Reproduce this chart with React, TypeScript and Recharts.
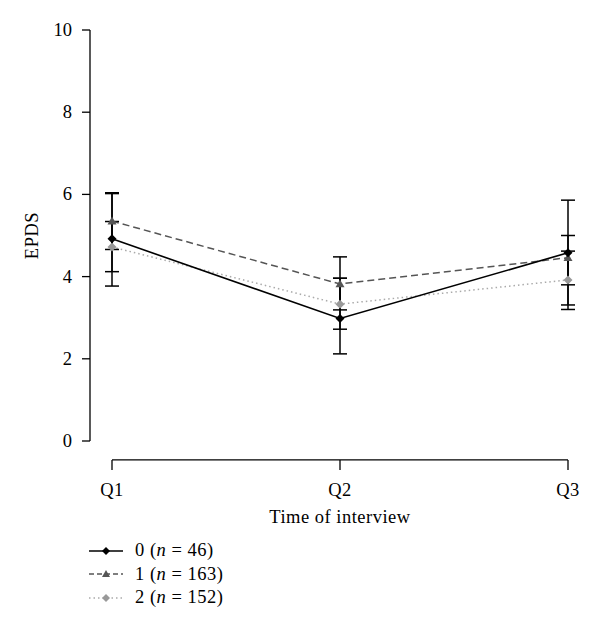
import React from "react";
import { LineChart, Line, XAxis, YAxis, ErrorBar, ReferenceLine, Label } from "recharts";

const quarters = ["Q1", "Q2", "Q3"];
const yTicks = [0, 2, 4, 6, 8, 10];

// mean EPDS per group
const mean0 = [4.92, 2.98, 4.58];
const mean1 = [5.35, 3.82, 4.46];
const mean2 = [4.72, 3.33, 3.92];

// error bar limits (low / high)
const low0 = [3.77, 2.12, 3.31];
const high0 = [6.04, 3.96, 5.86];
const low1 = [4.66, 3.19, 3.8];
const high1 = [6.02, 4.48, 5.0];
const low2 = [4.12, 2.72, 3.2];
const high2 = [5.34, 3.96, 4.62];

const groupNames = ["0", "1", "2"];
const groupN = [46, 163, 152];

const data = quarters.map((q, i) => ({
  q,
  s0: mean0[i],
  s1: mean1[i],
  s2: mean2[i],
  e0: [mean0[i] - low0[i], high0[i] - mean0[i]],
  e1: [mean1[i] - low1[i], high1[i] - mean1[i]],
  e2: [mean2[i] - low2[i], high2[i] - mean2[i]],
}));

const AXIS_Y = -0.46; // x axis line sits a bit below zero (R style)
const FONT = "'Liberation Serif', 'Times New Roman', serif";
const FS = 18.5;
const LS = 0.5;

const diamond = (fill: string, r: number) => (props: any) => {
  const { cx, cy, index } = props;
  if (cx == null || cy == null) return <g key={index} />;
  return (
    <polygon
      key={index}
      points={`${cx},${cy - r} ${cx + r},${cy} ${cx},${cy + r} ${cx - r},${cy}`}
      fill={fill}
    />
  );
};

const triangle = (fill: string, r: number) => (props: any) => {
  const { cx, cy, index } = props;
  if (cx == null || cy == null) return <g key={index} />;
  return (
    <polygon
      key={index}
      points={`${cx},${cy - r} ${cx + r},${cy + r * 0.75} ${cx - r},${cy + r * 0.75}`}
      fill={fill}
    />
  );
};

const XTick = (props: any) => {
  const { x, y, payload } = props;
  return (
    <g>
      <line x1={x} x2={x} y1={y + 19} y2={y + 29} stroke="#000" strokeWidth={1.3} />
      <text x={x} y={y + 55} textAnchor="middle" fontSize={FS} letterSpacing={LS} fill="#000" fontFamily={FONT}>
        {payload.value}
      </text>
    </g>
  );
};

const YTick = (props: any) => {
  const { x, y, payload } = props;
  return (
    <text x={x} y={y + 6} textAnchor="end" fontSize={FS} fill="#000" fontFamily={FONT}>
      {payload.value}
    </text>
  );
};

const YLabel = (props: any) => {
  const { viewBox } = props;
  const cx = viewBox.x + 32;
  const cy = viewBox.y + viewBox.height / 2;
  return (
    <text
      x={cx}
      y={cy}
      transform={`rotate(-90, ${cx}, ${cy})`}
      textAnchor="middle"
      dominantBaseline="central"
      fontSize={FS}
      letterSpacing={LS}
      fill="#000"
      fontFamily={FONT}
    >
      EPDS
    </text>
  );
};

const XLabel = (props: any) => {
  const { viewBox } = props;
  const cx = viewBox.x + viewBox.width / 2;
  return (
    <text x={cx} y={viewBox.y + 82} textAnchor="middle" fontSize={FS} letterSpacing={LS} fill="#000" fontFamily={FONT}>
      Time of interview
    </text>
  );
};

const legendStyles = [
  { stroke: "#000", dash: undefined, marker: "diamond", fill: "#000" },
  { stroke: "#555", dash: "5 3", marker: "triangle", fill: "#555" },
  { stroke: "#aaa", dash: "1.5 3", marker: "diamond", fill: "#999" },
];

const LegendIcon = ({ i }: { i: number }) => {
  const s = legendStyles[i];
  return (
    <svg width={36} height={14} style={{ display: "block" }}>
      <line x1={0} x2={34} y1={7} y2={7} stroke={s.stroke} strokeWidth={1.5} strokeDasharray={s.dash} />
      {s.marker === "diamond" ? (
        <polygon points="17,3 21,7 17,11 13,7" fill={s.fill} />
      ) : (
        <polygon points="17,3 21,10 13,10" fill={s.fill} />
      )}
    </svg>
  );
};

export default function App() {
  return (
    <div style={{ position: "absolute", left: 0, top: 0, width: 600, height: 632, fontFamily: FONT, background: "#fff" }}>
      <LineChart width={600} height={632} data={data} margin={{ top: 30, right: 10, bottom: 91, left: 0 }}>
        <XAxis
          dataKey="q"
          padding={{ left: 22, right: 22 }}
          axisLine={false}
          tickLine={false}
          tickSize={0}
          tickMargin={0}
          height={100}
          tick={<XTick />}
          interval={0}
        >
          <Label content={<XLabel />} />
        </XAxis>
        <YAxis
          domain={[0, 10]}
          ticks={yTicks}
          interval={0}
          width={90}
          tickSize={8}
          tickMargin={10}
          axisLine={{ stroke: "#000", strokeWidth: 1.3 }}
          tickLine={{ stroke: "#000", strokeWidth: 1.3 }}
          tick={<YTick />}
        >
          <Label content={<YLabel />} />
        </YAxis>
        <ReferenceLine
          segment={[{ x: "Q1", y: AXIS_Y }, { x: "Q3", y: AXIS_Y }]}
          stroke="#000"
          strokeWidth={1.3}
          ifOverflow="visible"
        />
        <Line
          dataKey="s2"
          stroke="#aaa"
          strokeWidth={1.5}
          strokeDasharray="1.5 3"
          dot={diamond("#999", 4.5)}
          activeDot={false}
          isAnimationActive={false}
        >
          <ErrorBar dataKey="e2" direction="y" width={7} stroke="#000" strokeWidth={1.5} isAnimationActive={false} />
        </Line>
        <Line
          dataKey="s1"
          stroke="#555"
          strokeWidth={1.5}
          strokeDasharray="7 4"
          dot={triangle("#555", 4.5)}
          activeDot={false}
          isAnimationActive={false}
        >
          <ErrorBar dataKey="e1" direction="y" width={7} stroke="#000" strokeWidth={1.5} isAnimationActive={false} />
        </Line>
        <Line
          dataKey="s0"
          stroke="#000"
          strokeWidth={1.6}
          dot={diamond("#000", 4.5)}
          activeDot={false}
          isAnimationActive={false}
        >
          <ErrorBar dataKey="e0" direction="y" width={7} stroke="#000" strokeWidth={1.5} isAnimationActive={false} />
        </Line>
      </LineChart>
      <div style={{ position: "absolute", left: 89, top: 539, fontSize: FS, letterSpacing: LS, color: "#000" }}>
        {groupNames.map((g, i) => (
          <div key={g} style={{ display: "flex", alignItems: "center", height: 23.5 }}>
            <LegendIcon i={i} />
            <span style={{ marginLeft: 10, whiteSpace: "nowrap" }}>
              {g} (<i>n</i> = {groupN[i]})
            </span>
          </div>
        ))}
      </div>
    </div>
  );
}
